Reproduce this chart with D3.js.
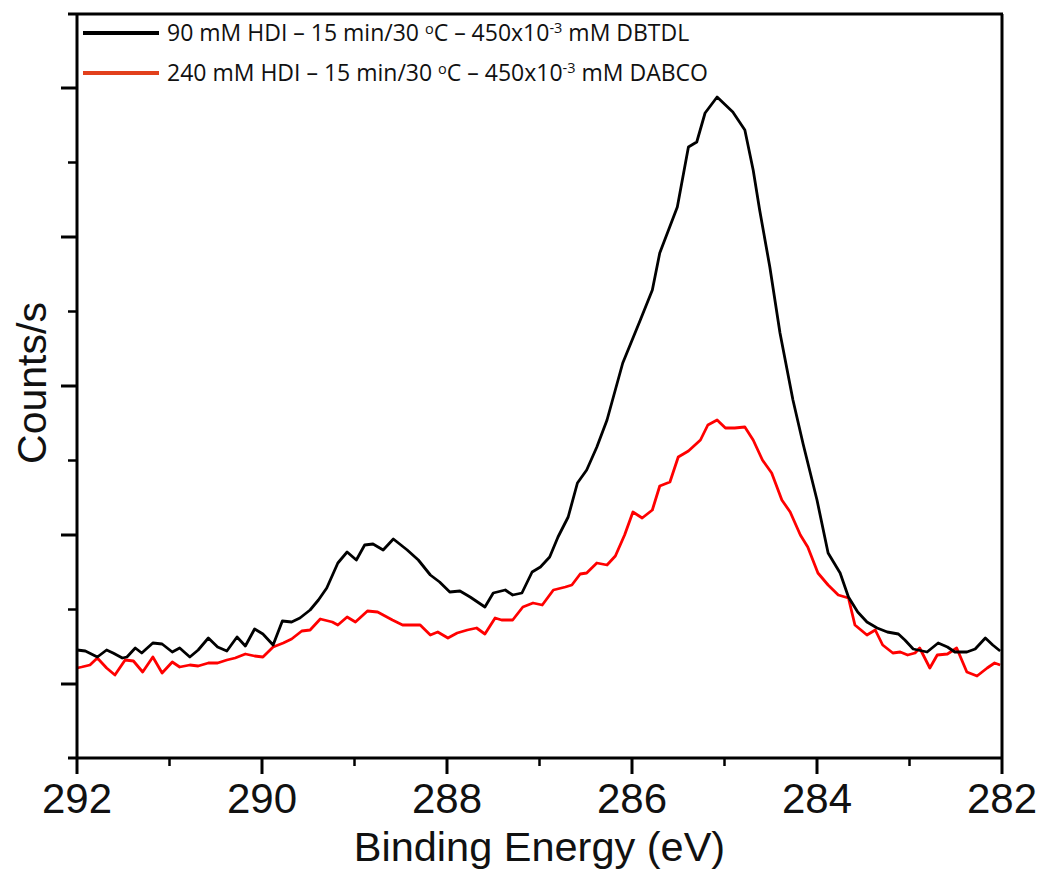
<!DOCTYPE html>
<html>
<head>
<meta charset="utf-8">
<script src="https://cdn.jsdelivr.net/npm/d3@7"></script>
<style>
  body { margin: 0; background: #fff; }
</style>
</head>
<body>
<svg id="chart"></svg>
<script>
// binding energy (eV) and counts/s
const energyDBTDL = [292.00, 291.91, 291.78, 291.68, 291.61, 291.51, 291.46, 291.37, 291.30, 291.18, 291.08, 290.97, 290.89, 290.78, 290.69, 290.58, 290.48, 290.38, 290.27, 290.18, 290.08, 289.99, 289.88, 289.78, 289.68, 289.59, 289.48, 289.39, 289.30, 289.18, 289.08, 288.98, 288.89, 288.80, 288.69, 288.58, 288.43, 288.31, 288.18, 288.08, 287.97, 287.86, 287.75, 287.59, 287.50, 287.37, 287.29, 287.19, 287.08, 286.99, 286.89, 286.80, 286.69, 286.59, 286.49, 286.38, 286.27, 286.10, 285.91, 285.78, 285.70, 285.51, 285.39, 285.30, 285.21, 285.08, 284.91, 284.78, 284.69, 284.62, 284.51, 284.40, 284.26, 284.15, 284.00, 283.88, 283.75, 283.66, 283.56, 283.46, 283.35, 283.24, 283.12, 283.05, 282.96, 282.81, 282.69, 282.59, 282.51, 282.38, 282.29, 282.18, 282.10, 282.02];
const countsDBTDL = [1830, 1820, 1760, 1830, 1800, 1750, 1760, 1850, 1800, 1900, 1890, 1810, 1850, 1760, 1830, 1950, 1860, 1820, 1960, 1870, 2040, 1990, 1880, 2120, 2110, 2150, 2230, 2330, 2450, 2700, 2810, 2730, 2880, 2890, 2830, 2940, 2830, 2730, 2580, 2510, 2410, 2420, 2360, 2260, 2400, 2430, 2380, 2400, 2610, 2660, 2760, 2960, 3160, 3500, 3630, 3860, 4130, 4700, 5130, 5430, 5800, 6260, 6860, 6910, 7200, 7360, 7210, 7030, 6630, 6230, 5660, 5000, 4330, 3890, 3330, 2800, 2600, 2360, 2210, 2110, 2050, 2010, 1990, 1930, 1840, 1810, 1900, 1860, 1810, 1810, 1840, 1950, 1880, 1820];

const energyDABCO = [292.00, 291.95, 291.86, 291.78, 291.68, 291.59, 291.48, 291.39, 291.29, 291.18, 291.08, 290.97, 290.89, 290.78, 290.69, 290.58, 290.48, 290.38, 290.29, 290.18, 290.08, 289.99, 289.88, 289.77, 289.68, 289.57, 289.48, 289.37, 289.24, 289.18, 289.08, 288.99, 288.86, 288.75, 288.59, 288.48, 288.29, 288.18, 288.10, 287.99, 287.89, 287.78, 287.68, 287.59, 287.48, 287.41, 287.29, 287.18, 287.07, 286.97, 286.85, 286.72, 286.65, 286.56, 286.49, 286.38, 286.27, 286.18, 286.08, 285.99, 285.89, 285.78, 285.70, 285.59, 285.50, 285.39, 285.26, 285.18, 285.08, 284.99, 284.89, 284.78, 284.69, 284.59, 284.49, 284.38, 284.29, 284.18, 284.10, 283.99, 283.88, 283.77, 283.66, 283.59, 283.46, 283.37, 283.29, 283.18, 283.10, 283.02, 282.94, 282.89, 282.78, 282.70, 282.59, 282.49, 282.38, 282.27, 282.16, 282.08, 282.02];
const countsDABCO = [1650, 1660, 1680, 1750, 1650, 1580, 1730, 1720, 1610, 1760, 1600, 1710, 1660, 1680, 1670, 1700, 1700, 1730, 1750, 1790, 1770, 1760, 1860, 1900, 1940, 2020, 2030, 2140, 2110, 2080, 2160, 2110, 2220, 2210, 2130, 2080, 2080, 1980, 2010, 1950, 2000, 2030, 2050, 1990, 2150, 2130, 2130, 2260, 2300, 2280, 2430, 2460, 2480, 2590, 2600, 2700, 2680, 2770, 2980, 3210, 3150, 3230, 3470, 3510, 3760, 3820, 3930, 4080, 4130, 4050, 4050, 4060, 3930, 3730, 3600, 3330, 3210, 2980, 2860, 2600, 2480, 2380, 2350, 2080, 1980, 2030, 1880, 1800, 1810, 1780, 1800, 1850, 1650, 1780, 1790, 1850, 1610, 1570, 1650, 1700, 1680];

const xTicks = [292, 290, 288, 286, 284, 282];
const xMinorTicks = [291, 289, 287, 285, 283];
const yTicks = [1490, 2980, 4470, 5960, 7450];
const yMinorTicks = [2235, 3725, 5215, 6705];

const svgWidth = 1041;
const svgHeight = 870;
const margin = { top: 14, right: 39, bottom: 112, left: 77 };
const width = svgWidth - margin.left - margin.right;
const height = svgHeight - margin.top - margin.bottom;

const svg = d3.select("#chart")
    .attr("width", svgWidth)
    .attr("height", svgHeight)
    .style("font-family", "'Liberation Sans', Arial, sans-serif");

const g = svg.append("g").attr("transform", `translate(${margin.left},${margin.top})`);

const xScale = d3.scaleLinear().domain([292, 282]).range([0, width]);
const yScale = d3.scaleLinear().domain([750, 8190]).range([height, 0]);

// spectra
const series = [
    { e: energyDBTDL, c: countsDBTDL, color: "#000000" },
    { e: energyDABCO, c: countsDABCO, color: "#ff0000" }
];

const line = d3.line()
    .x(d => xScale(d[0]))
    .y(d => yScale(d[1]));

g.selectAll(".spectrum")
    .data(series.slice().reverse())
    .enter().append("path")
    .attr("class", "spectrum")
    .attr("fill", "none")
    .attr("stroke", d => d.color)
    .attr("stroke-width", 2.8)
    .attr("stroke-linejoin", "round")
    .attr("d", d => line(d.e.map((v, i) => [v, d.c[i]])));

// frame
g.append("line")
    .attr("x1", -9).attr("x2", width + 1)
    .attr("y1", 0).attr("y2", 0)
    .attr("stroke", "#000").attr("stroke-width", 3);
g.append("line")
    .attr("x1", width).attr("x2", width)
    .attr("y1", 0).attr("y2", height)
    .attr("stroke", "#000").attr("stroke-width", 3);

// x axis
const xAxis = g.append("g")
    .attr("transform", `translate(0,${height})`);
xAxis.append("line")
    .attr("x1", -9).attr("x2", width + 1)
    .attr("stroke", "#000").attr("stroke-width", 3);
xAxis.selectAll(".xminor")
    .data(xMinorTicks)
    .enter().append("line")
    .attr("x1", d => xScale(d)).attr("x2", d => xScale(d))
    .attr("y1", 0).attr("y2", 8)
    .attr("stroke", "#000").attr("stroke-width", 2.5);
const xt = xAxis.selectAll(".xtick")
    .data(xTicks)
    .enter().append("g")
    .attr("transform", d => `translate(${xScale(d)},0)`);
xt.append("line")
    .attr("y1", 0).attr("y2", 16)
    .attr("stroke", "#000").attr("stroke-width", 3);
xt.append("text")
    .attr("y", 55)
    .attr("text-anchor", "middle")
    .style("font-size", "42px")
    .attr("fill", "#111")
    .text(d => d);

// y axis
const yAxis = g.append("g");
yAxis.append("line")
    .attr("y1", 0).attr("y2", height)
    .attr("stroke", "#000").attr("stroke-width", 3);
yAxis.selectAll(".ymajor")
    .data(yTicks)
    .enter().append("line")
    .attr("x1", -16).attr("x2", 0)
    .attr("y1", d => yScale(d)).attr("y2", d => yScale(d))
    .attr("stroke", "#000").attr("stroke-width", 3);
yAxis.selectAll(".yminor")
    .data(yMinorTicks)
    .enter().append("line")
    .attr("x1", -9).attr("x2", 0)
    .attr("y1", d => yScale(d)).attr("y2", d => yScale(d))
    .attr("stroke", "#000").attr("stroke-width", 2.5);

// axis titles
svg.append("text")
    .attr("x", margin.left + width / 2)
    .attr("y", 861)
    .attr("text-anchor", "middle")
    .style("font-size", "41.5px")
    .attr("fill", "#111")
    .text("Binding Energy (eV)");

svg.append("text")
    .attr("transform", `translate(46,${margin.top + height / 2 - 3}) rotate(-90)`)
    .attr("text-anchor", "middle")
    .style("font-size", "41px")
    .attr("fill", "#111")
    .text("Counts/s");

// legend
const legendItems = [
    { lead: "90 mM HDI – 15 min/30 ", rest: "C – 450x10", end: " mM DBTDL", color: "#000000" },
    { lead: "240 mM HDI – 15 min/30 ", rest: "C – 450x10", end: " mM DABCO", color: "#e2401c" }
];

const legend = svg.selectAll(".legend")
    .data(legendItems)
    .enter().append("g")
    .attr("class", "legend")
    .attr("transform", (d, i) => `translate(83,${33 + i * 40})`);

legend.append("line")
    .attr("x1", 0).attr("x2", 76)
    .attr("stroke", d => d.color)
    .attr("stroke-width", 4);

const lt = legend.append("text")
    .attr("x", 84)
    .attr("y", 8)
    .style("font-family", "'Open Sans', 'Noto Sans', sans-serif")
    .style("font-size", "23px")
    .attr("fill", "#111");
lt.append("tspan").text(d => d.lead);
lt.append("tspan").attr("dy", -7).style("font-size", "14.5px").text("o");
lt.append("tspan").attr("dy", 7).text(d => d.rest);
lt.append("tspan").attr("dy", -8).style("font-size", "14.5px").text("-3");
lt.append("tspan").attr("dy", 8).text(d => d.end);
</script>
</body>
</html>
